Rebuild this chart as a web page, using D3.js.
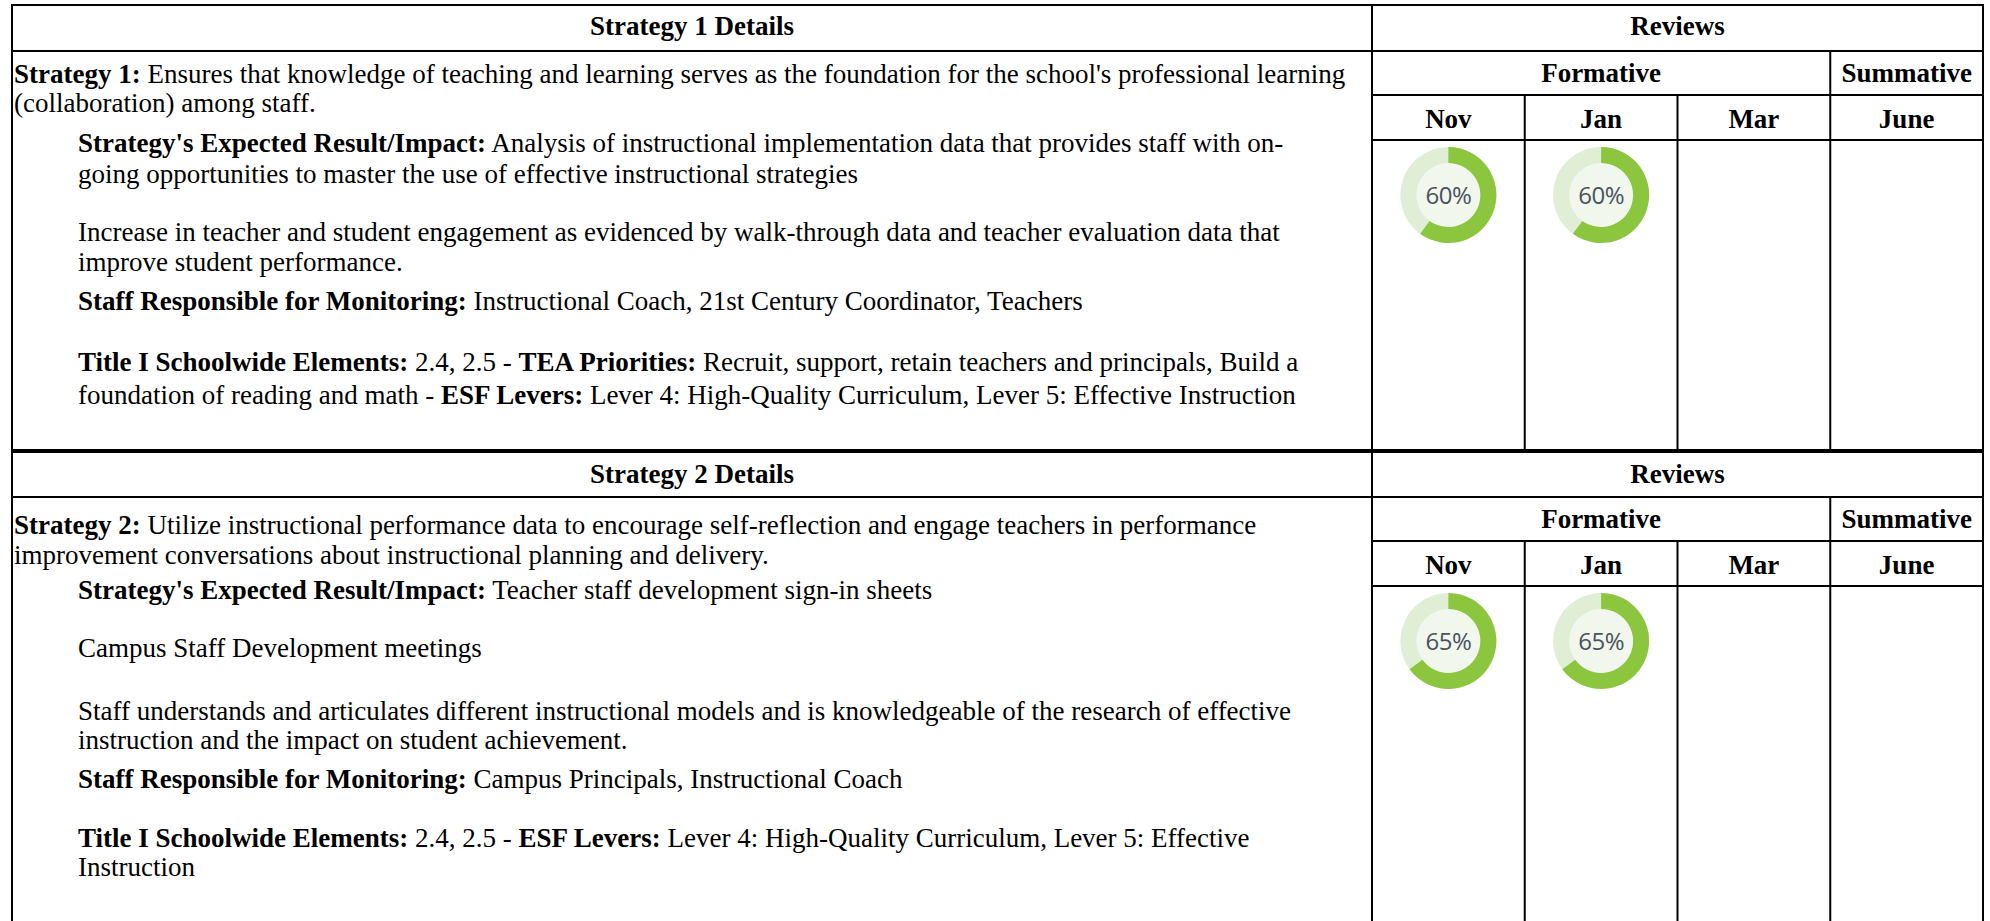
<!DOCTYPE html>
<html><head><meta charset="utf-8">
<script src="https://cdn.jsdelivr.net/npm/d3@7"></script>
<style>html,body{margin:0;padding:0;background:#fff;}svg{display:block;}</style>
</head><body>
<div id="chart"></div>
<script>
// ---- data ----
const months = ["Nov", "Jan", "Mar", "June"];
const reviewGroups = ["Formative", "Summative"];
const strategyTitles = ["Strategy 1 Details", "Strategy 2 Details"];
const strategy1Reviews = [60, 60, null, null];
const strategy2Reviews = [65, 65, null, null];

// text lines: [segments, indent, lineIndex]; segments = [text, bold]
const strategy1Lines = [
  [[["Strategy 1:", true], [" Ensures that knowledge of teaching and learning serves as the foundation for the school's professional learning", false]], 0, 0],
  [[["(collaboration) among staff.", false]], 0, 1],
  [[["Strategy's Expected Result/Impact:", true], [" Analysis of instructional implementation data that provides staff with on-", false]], 1, 2],
  [[["going opportunities to master the use of effective instructional strategies", false]], 1, 3],
  [[["Increase in teacher and student engagement as evidenced by walk-through data and teacher evaluation data that", false]], 1, 4],
  [[["improve student performance.", false]], 1, 5],
  [[["Staff Responsible for Monitoring:", true], [" Instructional Coach, 21st Century Coordinator, Teachers", false]], 1, 6],
  [[["Title I Schoolwide Elements:", true], [" 2.4, 2.5 - ", false], ["TEA Priorities:", true], [" Recruit, support, retain teachers and principals, Build a", false]], 1, 7],
  [[["foundation of reading and math - ", false], ["ESF Levers:", true], [" Lever 4: High-Quality Curriculum, Lever 5: Effective Instruction", false]], 1, 8]
];
const strategy2Lines = [
  [[["Strategy 2:", true], [" Utilize instructional performance data to encourage self-reflection and engage teachers in performance", false]], 0, 0],
  [[["improvement conversations about instructional planning and delivery.", false]], 0, 1],
  [[["Strategy's Expected Result/Impact:", true], [" Teacher staff development sign-in sheets", false]], 1, 2],
  [[["Campus Staff Development meetings", false]], 1, 3],
  [[["Staff understands and articulates different instructional models and is knowledgeable of the research of effective", false]], 1, 4],
  [[["instruction and the impact on student achievement.", false]], 1, 5],
  [[["Staff Responsible for Monitoring:", true], [" Campus Principals, Instructional Coach", false]], 1, 6],
  [[["Title I Schoolwide Elements:", true], [" 2.4, 2.5 - ", false], ["ESF Levers:", true], [" Lever 4: High-Quality Curriculum, Lever 5: Effective", false]], 1, 7],
  [[["Instruction", false]], 1, 8]
];

// ---- layout ----
const W = 1990, H = 921;
const left = 12, right = 1983, divX = 1372;
const rowH = [46, 44, 45];
const sectionTops = [5, 451];
const lineOffsets1 = [69, 98, 138, 169, 227, 257, 296, 357, 390];
const lineOffsets2 = [74, 104, 139, 197, 260, 289, 328, 387, 416];
const fontSize = 27;
const serif = "'Liberation Serif','Times New Roman',serif";

const svg = d3.select("#chart").append("svg").attr("width", W).attr("height", H);

const x = d3.scaleBand().domain(months).range([divX, right]);
const pct = d3.scaleLinear().domain([0, 100]).range([0, 2 * Math.PI]);

const sections = [
  {title: strategyTitles[0], lines: strategy1Lines, vals: strategy1Reviews, offs: lineOffsets1, top: sectionTops[0], bottom: sectionTops[1]},
  {title: strategyTitles[1], lines: strategy2Lines, vals: strategy2Reviews, offs: lineOffsets2, top: sectionTops[1], bottom: H + 10}
];

const gLines = svg.append("g");
const gText = svg.append("g").attr("font-family", serif).attr("font-size", fontSize).attr("fill", "#000");

function hline(y, x1, x2, w) {
  gLines.append("line").attr("x1", x1).attr("x2", x2).attr("y1", y).attr("y2", y)
    .attr("stroke", "#000").attr("stroke-width", w || 2);
}
function vline(xx, y1, y2, w) {
  gLines.append("line").attr("x1", xx).attr("x2", xx).attr("y1", y1).attr("y2", y2)
    .attr("stroke", "#000").attr("stroke-width", w || 2);
}

sections.forEach((s, si) => {
  const t = s.top;
  const y1 = t + rowH[0], y2 = y1 + rowH[1], y3 = y2 + rowH[2];
  // horizontal lines
  hline(t, left - 1, right + 1, si === 0 ? 2 : 4);
  hline(y1, left, right, 2);
  hline(y2, divX, right, 2);
  hline(y3, divX, right, 2);
  // vertical lines
  vline(left, t, s.bottom, 2);
  vline(right, t, s.bottom, 2);
  vline(divX, t, s.bottom, 2);
  vline(x("June"), y1, s.bottom, 2);
  vline(x("Jan"), y2, s.bottom, 2);
  vline(x("Mar"), y2, s.bottom, 2);

  // header texts
  const hy = t + rowH[0] / 2 - (si === 0 ? 2 : 0);
  gText.append("text").attr("x", (left + divX) / 2).attr("y", hy).attr("dy", "0.35em")
    .attr("text-anchor", "middle").attr("font-weight", "bold").text(s.title);
  gText.append("text").attr("x", (divX + right) / 2).attr("y", hy).attr("dy", "0.35em")
    .attr("text-anchor", "middle").attr("font-weight", "bold").text("Reviews");
  gText.append("text").attr("x", (divX + x("June")) / 2).attr("y", y1 + rowH[1] / 2).attr("dy", "0.35em")
    .attr("text-anchor", "middle").attr("font-weight", "bold").text(reviewGroups[0]);
  gText.append("text").attr("x", x("June") + x.bandwidth() / 2).attr("y", y1 + rowH[1] / 2).attr("dy", "0.35em")
    .attr("text-anchor", "middle").attr("font-weight", "bold").text(reviewGroups[1]);
  months.forEach(m => {
    gText.append("text").attr("x", x(m) + x.bandwidth() / 2).attr("y", y2 + rowH[2] / 2 + 1).attr("dy", "0.35em")
      .attr("text-anchor", "middle").attr("font-weight", "bold").text(m);
  });

  // body text
  s.lines.forEach(([segs, indent, li]) => {
    const tx = gText.append("text").attr("x", indent ? 78 : 14).attr("y", t + s.offs[li]).attr("dy", "0.35em");
    segs.forEach(([str, b]) => {
      tx.append("tspan").attr("font-weight", b ? "bold" : "normal").text(str);
    });
  });

  // donuts
  const outerR = 48, innerR = 32;
  const cy = y3 + 55;
  const arc = d3.arc().innerRadius(innerR).outerRadius(outerR);
  s.vals.forEach((v, i) => {
    if (v == null) return;
    const g = svg.append("g").attr("transform", `translate(${x(months[i]) + x.bandwidth() / 2},${cy})`);
    g.append("circle").attr("r", outerR).attr("fill", "#e0eed5");
    g.append("circle").attr("r", innerR).attr("fill", "#f1f7ec");
    g.append("path").attr("d", arc({startAngle: 0, endAngle: pct(v)})).attr("fill", "#8cc63f");
    g.append("text").attr("text-anchor", "middle").attr("dy", "0.36em")
      .attr("font-family", "'Open Sans','Noto Sans',sans-serif").attr("font-size", 24)
      .attr("letter-spacing", "-0.5").attr("fill", "#4a5260").text(v + "%");
  });
});
</script>
</body></html>
